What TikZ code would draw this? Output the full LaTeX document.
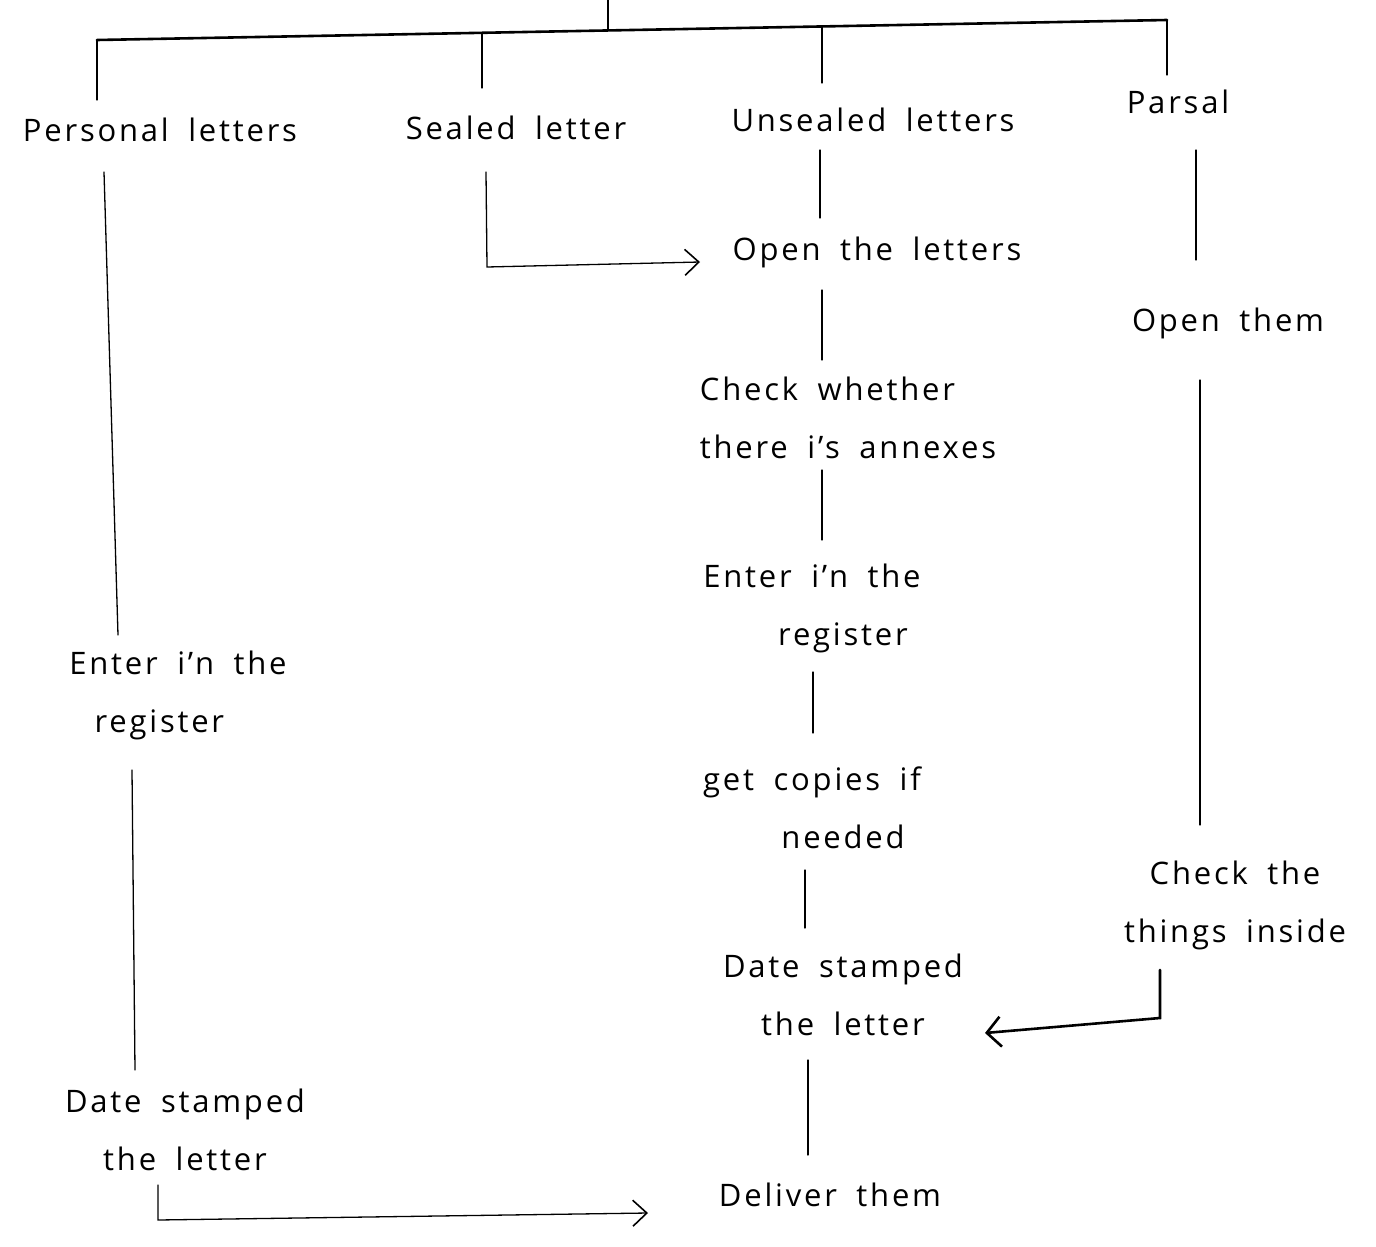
\documentclass[tikz,border=0pt]{standalone}
\usepackage{fontspec}
\setmainfont{Open Sans}[LetterSpace=9, WordSpace=1.8]
\usetikzlibrary{arrows.meta,calc}
\tikzset{
  lbl/.style={inner sep=2pt, font=\fontsize{31}{58}\selectfont, align=center},
  lbll/.style={lbl, align=left},
  ln/.style={line width=1.3pt, line cap=round},
  bar/.style={line width=2.6pt, line cap=round},
  arr/.style={ln, -{Straight Barb[length=14pt,width=26pt,line width=1.6pt]}},
  arrb/.style={line width=2.6pt, line cap=round, -{Straight Barb[length=14pt,width=30pt,line width=2.6pt]}}
}
\begin{document}
\begin{tikzpicture}[x=1pt,y=-1pt]
\useasboundingbox (0,0) rectangle (1376,1247);
% nodes
\node[lbl] (pl) at (160,130) {Personal letters};
\node[lbl] (sl) at (516,128) {Sealed letter};
\node[lbl] (ul) at (873,120) {Unsealed letters};
\node[lbl] (pa) at (1178,102) {Parsal};
\node[lbl] (pe) at (178,695) {Enter i'n the\\register\hspace*{1.2em}};
\node[lbl] (pd) at (185,1130) {Date stamped\\the letter};
\node[lbl] (de) at (830,1195) {Deliver them};
\node[lbl] (ol) at (877,252) {Open the letters};
\node[lbll] (cw) at (848,418) {Check whether\\there i's annexes};
\node[lbl] (ue) at (812,608) {Enter i'n the\\\hspace*{2em}register};
\node[lbl] (gc) at (812,808) {get copies if\\\hspace*{2em}needed};
\node[lbl] (ud) at (843,995) {Date stamped\\the letter};
\node[lbl] (ot) at (1228,323) {Open them};
\node[lbl] (ct) at (1235,905) {Check the\\things inside};
% tree
\coordinate (top) at (608,0);
\coordinate (tj) at (608,29);
\coordinate (b1) at (97,40);
\coordinate (b2) at (482,33);
\coordinate (b3) at (822,27);
\coordinate (b4) at (1167,20);
\draw[ln] (top) -- (tj);
\draw[bar] (b1) -- (b4);
\draw[ln] (b1) -- ($(pl)+(-63,-30)$);
\draw[ln] (b2) -- ($(sl)+(-34,-40)$);
\draw[ln] (b3) -- ($(ul)+(-51,-37)$);
\draw[ln] (b4) -- ($(pa)+(-11,-27)$);
% personal branch
\draw[ln] ($(pl)+(-56,42)$) -- ($(pe)+(-60,-60)$);
\draw[ln] ($(pe)+(-46,75)$) -- ($(pd)+(-50,-60)$);
\coordinate (c1) at (158,1220);
\draw[arr] ($(pd)+(-27,55)$) -- (c1) -- ($(de)+(-182,18)$);
% sealed
\coordinate (c2) at (487,267);
\draw[arr] ($(sl)+(-30,44)$) -- (c2) -- ($(ol)+(-177,10)$);
% unsealed
\draw[ln] ($(ul)+(-53,30)$) -- ($(ol)+(-57,-34)$);
\draw[ln] ($(ol)+(-55,38)$) -- ($(cw)+(-26,-58)$);
\draw[ln] ($(cw)+(-26,52)$) -- ($(ue)+(10,-68)$);
\draw[ln] ($(ue)+(1,64)$) -- ($(gc)+(1,-75)$);
\draw[ln] ($(gc)+(-7,62)$) -- ($(ud)+(-38,-67)$);
\draw[ln] ($(ud)+(-35,65)$) -- ($(de)+(-22,-40)$);
% parsal
\draw[ln] ($(pa)+(18,48)$) -- ($(ot)+(-32,-63)$);
\draw[ln] ($(ot)+(-28,57)$) -- ($(ct)+(-35,-80)$);
\coordinate (c3) at (1160,1018);
\draw[arrb] ($(ct)+(-75,65)$) -- (c3) -- ($(ud)+(142,38)$);
\end{tikzpicture}
\end{document}
